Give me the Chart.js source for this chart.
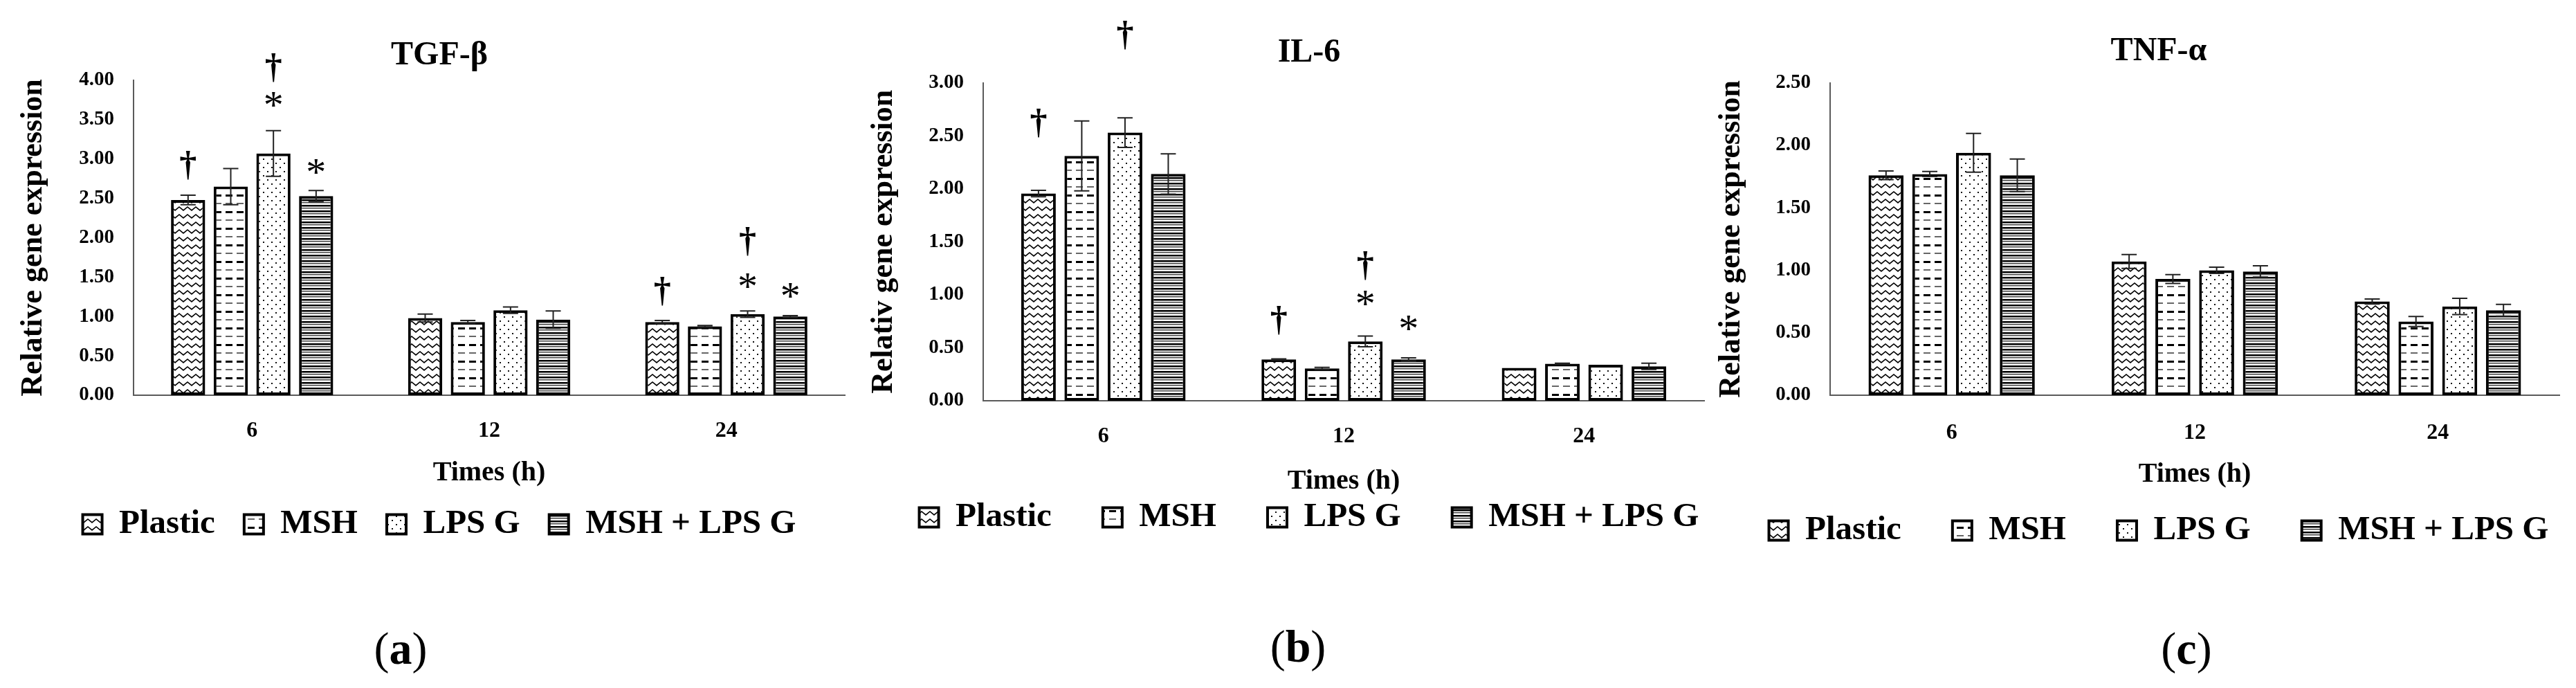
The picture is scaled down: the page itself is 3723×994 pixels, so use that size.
<!DOCTYPE html>
<html>
<head>
<meta charset="utf-8">
<script src="https://cdn.jsdelivr.net/npm/chart.js@4.4.1/dist/chart.umd.min.js"></script>
<style>
  html, body { margin: 0; padding: 0; background: #fff; overflow: hidden; width: 3723px; height: 994px; }
  .panel { position: absolute; top: 0; }
  .tag { position: absolute; font-family: "Liberation Serif", serif; font-size: 66px; color: #000; transform: translate(-50%, -50%); white-space: nowrap; }
</style>
</head>
<body>
<canvas id="tgf" class="panel"></canvas>
<canvas id="il6" class="panel"></canvas>
<canvas id="tnf" class="panel"></canvas>
<div class="tag" style="left:579px; top:937px">(<b>a</b>)</div>
<div class="tag" style="left:1876px; top:934px">(<b>b</b>)</div>
<div class="tag" style="left:3160px; top:937px">(<b>c</b>)</div>
<script>
const times = ['6', '12', '24'];
const groups = ['Plastic', 'MSH', 'LPS G', 'MSH + LPS G'];

// (a) TGF-β, one row per group, one value per time
const tgfMean = [
  [2.48, 0.98, 0.93],
  [2.65, 0.93, 0.875],
  [3.07, 1.08, 1.03],
  [2.53, 0.96, 1.00]
];
const tgfErr = [
  [0.06, 0.05, 0.02],
  [0.23, 0.02, 0.01],
  [0.29, 0.04, 0.04],
  [0.07, 0.11, 0.01]
];
const tgfTicks = [0, 0.5, 1, 1.5, 2, 2.5, 3, 3.5, 4];
// [group, time, symbol, value where the symbol sits]
const tgfMarks = [
  [0, 0, '†', 2.88],
  [2, 0, '†', 4.12], [2, 0, '*', 3.72],
  [3, 0, '*', 2.87],
  [0, 2, '†', 1.28],
  [2, 2, '†', 1.92], [2, 2, '*', 1.42],
  [3, 2, '*', 1.29]
];

// (b) IL-6
const il6Mean = [
  [1.955, 0.39, 0.31],
  [2.31, 0.305, 0.35],
  [2.53, 0.56, 0.34],
  [2.14, 0.39, 0.325]
];
const il6Err = [
  [0.03, 0.005, 0],
  [0.33, 0.01, 0.005],
  [0.14, 0.05, 0],
  [0.19, 0.015, 0.03]
];
const il6Ticks = [0, 0.5, 1, 1.5, 2, 2.5, 3];
const il6Marks = [
  [0, 0, '†', 2.59],
  [2, 0, '†', 3.42],
  [0, 1, '†', 0.73],
  [2, 1, '†', 1.25], [2, 1, '*', 0.94],
  [3, 1, '*', 0.71]
];

// (c) TNF-α
const tnfMean = [
  [1.76, 1.07, 0.75],
  [1.77, 0.93, 0.59],
  [1.94, 1.00, 0.71],
  [1.76, 0.99, 0.68]
];
const tnfErr = [
  [0.035, 0.055, 0.02],
  [0.02, 0.035, 0.04],
  [0.155, 0.025, 0.065],
  [0.13, 0.045, 0.047]
];
const tnfTicks = [0, 0.5, 1, 1.5, 2, 2.5];
const tnfMarks = [];

const serif = '"Liberation Serif", "Times New Roman", serif';
Chart.defaults.font.family = serif;
Chart.defaults.color = '#000';
const axisGray = '#5a5a5a';

// hatch fills, one per group
function makePattern(kind) {
  const c = document.createElement('canvas');
  const g = c.getContext('2d');
  if (kind === 'zigzag') {
    c.width = 12; c.height = 11;
    g.fillStyle = '#fff'; g.fillRect(0, 0, 12, 11);
    g.strokeStyle = '#000'; g.lineWidth = 1.7;
    g.beginPath();
    g.moveTo(-6, 7); g.lineTo(0, 2); g.lineTo(6, 7); g.lineTo(12, 2); g.lineTo(18, 7);
    g.stroke();
  } else if (kind === 'dash') {
    c.width = 16; c.height = 24;
    g.fillStyle = '#fff'; g.fillRect(0, 0, 16, 24);
    g.fillStyle = '#666'; g.fillRect(3, 5, 10, 2);
    g.fillStyle = '#000'; g.fillRect(3, 17, 10, 3);
  } else if (kind === 'dots') {
    c.width = 12; c.height = 12;
    g.fillStyle = '#fff'; g.fillRect(0, 0, 12, 12);
    g.fillStyle = '#111';
    g.fillRect(1, 1, 2, 2);
    g.fillRect(7, 7, 2, 2);
  } else {
    c.width = 4; c.height = 8;
    g.fillStyle = '#fff'; g.fillRect(0, 0, 4, 8);
    g.fillStyle = '#000'; g.fillRect(0, 0, 4, 2.5);
    g.fillStyle = '#444'; g.fillRect(0, 4, 4, 1.5);
  }
  return g.createPattern(c, 'repeat');
}
const fills = ['zigzag', 'dash', 'dots', 'stripes'].map(makePattern);

const errorBars = {
  id: 'errorBars',
  afterDatasetsDraw(chart) {
    const { ctx } = chart;
    const y = chart.scales.y;
    ctx.save();
    ctx.strokeStyle = '#222';
    ctx.lineWidth = 2;
    chart.data.datasets.forEach((ds, i) => {
      chart.getDatasetMeta(i).data.forEach((bar, j) => {
        const e = ds.err[j];
        if (!e) return;
        const top = y.getPixelForValue(ds.data[j] + e);
        const bot = y.getPixelForValue(ds.data[j] - e);
        ctx.beginPath();
        ctx.moveTo(bar.x, top); ctx.lineTo(bar.x, bot);
        ctx.moveTo(bar.x - 11, top); ctx.lineTo(bar.x + 11, top);
        ctx.moveTo(bar.x - 11, bot); ctx.lineTo(bar.x + 11, bot);
        ctx.stroke();
      });
    });
    ctx.restore();
  }
};

const sigMarks = {
  id: 'sigMarks',
  afterDatasetsDraw(chart) {
    const { ctx } = chart;
    const y = chart.scales.y;
    ctx.save();
    ctx.fillStyle = '#000';
    ctx.textAlign = 'center';
    ctx.textBaseline = 'middle';
    chart.data.datasets.forEach((ds, i) => {
      const bars = chart.getDatasetMeta(i).data;
      ds.marks.forEach(([t, sym, v]) => {
        const cy = y.getPixelForValue(v);
        if (sym === '†') {
          ctx.font = 'bold 50px ' + serif;
          ctx.fillText(sym, bars[t].x, cy - 3);
        } else {
          ctx.font = '58px ' + serif;
          ctx.fillText(sym, bars[t].x, cy + 8);
        }
      });
    });
    ctx.restore();
  }
};

function makeChart(id, o) {
  const canvas = document.getElementById(id);
  canvas.width = o.width;
  canvas.height = o.height;
  canvas.style.left = o.left + 'px';

  const datasets = groups.map((name, i) => ({
    label: name,
    data: o.mean[i],
    err: o.err[i],
    marks: o.marks.filter(m => m[0] === i).map(m => m.slice(1)),
    yAxisID: 'y',
    backgroundColor: fills[i],
    borderColor: '#000',
    borderWidth: 4,
    borderSkipped: false,
    categoryPercentage: 0.72,
    barPercentage: 0.8
  }));

  return new Chart(canvas, {
    type: 'bar',
    data: { labels: times, datasets },
    options: {
      responsive: false,
      animation: false,
      layout: { padding: 0 },
      plugins: {
        title: {
          display: true,
          text: o.title,
          color: '#000',
          font: { size: 48, weight: 'bold' },
          padding: { top: o.titleTop, bottom: o.titleBottom }
        },
        legend: {
          position: 'bottom',
          labels: {
            boxWidth: 28,
            boxHeight: 28,
            padding: o.legendGap,
            color: '#000',
            font: { size: 49, weight: 'bold' }
          }
        },
        tooltip: { enabled: false }
      },
      scales: {
        x: {
          grid: { display: false, drawTicks: false },
          border: { display: true, color: axisGray, width: 2 },
          ticks: { color: '#000', font: { size: 32, weight: 'bold' }, padding: o.xTickPad, maxRotation: 0 },
          title: {
            display: true,
            text: 'Times (h)',
            color: '#000',
            font: { size: 40, weight: 'bold', lineHeight: 1 },
            padding: { top: 0, bottom: o.xTitlePad }
          },
          afterFit: s => { s.height = o.xHeight; }
        },
        y: {
          min: 0,
          max: o.ticks[o.ticks.length - 1],
          afterBuildTicks: s => { s.ticks = o.ticks.map(v => ({ value: v })); },
          grid: { display: false, drawTicks: false },
          border: { display: true, color: axisGray, width: 2 },
          ticks: {
            color: '#000',
            font: { size: 29, weight: 'bold' },
            padding: 28,
            callback: v => Number(v).toFixed(2)
          },
          title: {
            display: true,
            text: o.yTitle,
            color: '#000',
            font: { size: 44, weight: 'bold', lineHeight: 1 },
            padding: { top: 8, bottom: 0 }
          },
          afterFit: s => { s.width = o.yWidth; }
        },
        y2: {
          position: 'right',
          grid: { display: false, drawTicks: false },
          border: { display: false },
          ticks: { display: false },
          afterFit: s => { s.width = o.rightGap; }
        }
      }
    },
    plugins: [errorBars, sigMarks]
  });
}

makeChart('tgf', {
  title: 'TGF-β', yTitle: 'Relative gene expression',
  mean: tgfMean, err: tgfErr, ticks: tgfTicks, marks: tgfMarks,
  left: 19, width: 1232, height: 792, yWidth: 174, rightGap: 30,
  titleTop: 52, titleBottom: 6.4, xHeight: 120, xTickPad: 33, xTitlePad: -13, legendGap: 42
});

makeChart('il6', {
  title: 'IL-6', yTitle: 'Relativ gene expression',
  mean: il6Mean, err: il6Err, ticks: il6Ticks, marks: il6Marks,
  left: 1248, width: 1288, height: 782, yWidth: 173, rightGap: 73,
  titleTop: 48, titleBottom: 14, xHeight: 70, xTickPad: 33, xTitlePad: -67, legendGap: 74
});

makeChart('tnf', {
  title: 'TNF-α', yTitle: 'Relative gene expression',
  mean: tnfMean, err: tnfErr, ticks: tnfTicks, marks: tnfMarks,
  left: 2473, width: 1294, height: 801, yWidth: 172, rightGap: 68,
  titleTop: 46, titleBottom: 16, xHeight: 97, xTickPad: 36, xTitlePad: -38, legendGap: 74
});
</script>
</body>
</html>
